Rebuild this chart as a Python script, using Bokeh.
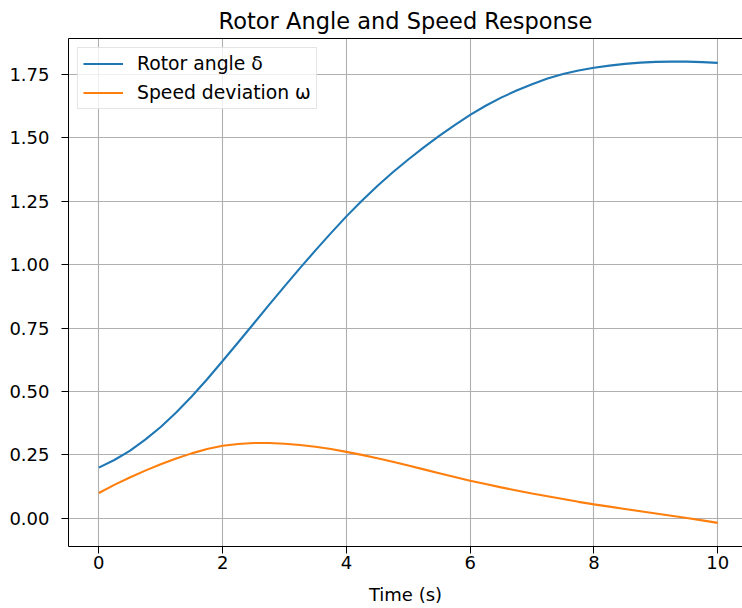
from bokeh.plotting import figure
from bokeh.models import (FixedTicker, NumeralTickFormatter, Legend, LegendItem, Range1d,
                          ColumnDataSource, LinearAxis)
from bokeh.embed import file_html
from bokeh.resources import INLINE

title_text = "Rotor Angle and Speed Response"
x_label = "Time (s)"
series_names = ["Rotor angle δ", "Speed deviation ω"]

time_s = [0.00, 0.25, 0.50, 0.75, 1.00, 1.25, 1.50, 1.75, 2.00, 2.25,
          2.50, 2.75, 3.00, 3.25, 3.50, 3.75, 4.00, 4.25, 4.50, 4.75,
          5.00, 5.25, 5.50, 5.75, 6.00, 6.25, 6.50, 6.75, 7.00, 7.25,
          7.50, 7.75, 8.00, 8.25, 8.50, 8.75, 9.00, 9.25, 9.50, 9.75, 10.00]

rotor_angle = [0.200, 0.230, 0.266, 0.310, 0.360, 0.417, 0.480, 0.548, 0.620, 0.693,
               0.767, 0.841, 0.914, 0.986, 1.056, 1.124, 1.190, 1.252, 1.310, 1.364,
               1.414, 1.462, 1.507, 1.550, 1.590, 1.626, 1.658, 1.686, 1.711, 1.733,
               1.751, 1.765, 1.776, 1.784, 1.791, 1.796, 1.799, 1.800, 1.800, 1.798, 1.795]

speed_dev = [0.100, 0.132, 0.161, 0.188, 0.213, 0.236, 0.256, 0.273, 0.286, 0.293,
             0.297, 0.297, 0.294, 0.289, 0.282, 0.273, 0.262, 0.250, 0.237, 0.223,
             0.208, 0.193, 0.178, 0.163, 0.148, 0.135, 0.122, 0.110, 0.098, 0.087,
             0.076, 0.065, 0.055, 0.046, 0.037, 0.028, 0.019, 0.010, 0.001, -0.008, -0.018]

x_ticks = [0, 2, 4, 6, 8, 10]
y_ticks = [0.0, 0.25, 0.5, 0.75, 1.0, 1.25, 1.5, 1.75]

FONT = "DejaVu Sans"

src = ColumnDataSource(dict(t=time_s, d=rotor_angle, w=speed_dev))

p = figure(width=742, height=608, output_backend="svg", toolbar_location=None,
           x_range=Range1d(-0.49, 10.40), y_range=Range1d(-0.111, 1.891),
           min_border_left=68, min_border_right=0, min_border_top=38, min_border_bottom=62,
           background_fill_color="white", border_fill_color="white")

p.title.text = title_text
p.title.align = "center"
p.title.text_font = FONT
p.title.text_font_size = "22.5px"
p.title.text_font_style = "normal"
p.title.text_color = "black"
p.title.standoff = 9

p.outline_line_color = None

for g in (p.xgrid[0], p.ygrid[0]):
    g.grid_line_color = "#b0b0b0"
    g.grid_line_width = 1.1

p.xaxis.ticker = FixedTicker(ticks=x_ticks)
p.yaxis.ticker = FixedTicker(ticks=y_ticks)
p.yaxis.formatter = NumeralTickFormatter(format="0.00")
p.xaxis.axis_label = x_label

for ax in (p.xaxis[0], p.yaxis[0]):
    ax.axis_line_color = "black"
    ax.axis_line_width = 1
    ax.major_tick_line_color = "black"
    ax.major_tick_line_width = 1
    ax.major_tick_out = 7
    ax.major_tick_in = 0
    ax.minor_tick_line_color = None
    ax.major_label_text_font = FONT
    ax.major_label_text_font_size = "18px"
    ax.major_label_text_color = "black"
    ax.axis_label_text_font = FONT
    ax.axis_label_text_font_size = "18px"
    ax.axis_label_text_font_style = "normal"
    ax.axis_label_text_color = "black"

p.xaxis[0].major_label_standoff = 2
p.xaxis[0].axis_label_standoff = 12
p.yaxis[0].major_label_standoff = 12

# top spine
top = LinearAxis(ticker=FixedTicker(ticks=[]), axis_line_color="black", axis_line_width=1,
                 major_tick_line_color=None, minor_tick_line_color=None,
                 major_label_text_font_size="0px")
p.add_layout(top, "above")

r1 = p.line("t", "d", source=src, line_color="#1f77b4", line_width=2.1)
r2 = p.line("t", "w", source=src, line_color="#ff7f0e", line_width=2.1)

legend = Legend(items=[LegendItem(label=series_names[0], renderers=[r1]),
                       LegendItem(label=series_names[1], renderers=[r2])],
                location="top_left")
legend.margin = 9
legend.padding = 5
legend.spacing = 8
legend.glyph_width = 40
legend.glyph_height = 21
legend.label_height = 21
legend.label_standoff = 14
legend.label_text_font = FONT
legend.label_text_font_size = "18.8px"
legend.label_text_color = "black"
legend.border_line_color = "#cccccc"
legend.border_line_width = 1
legend.background_fill_color = "white"
legend.background_fill_alpha = 0.8
p.add_layout(legend, "center")

open("out.html", "w").write(file_html(p, INLINE))
